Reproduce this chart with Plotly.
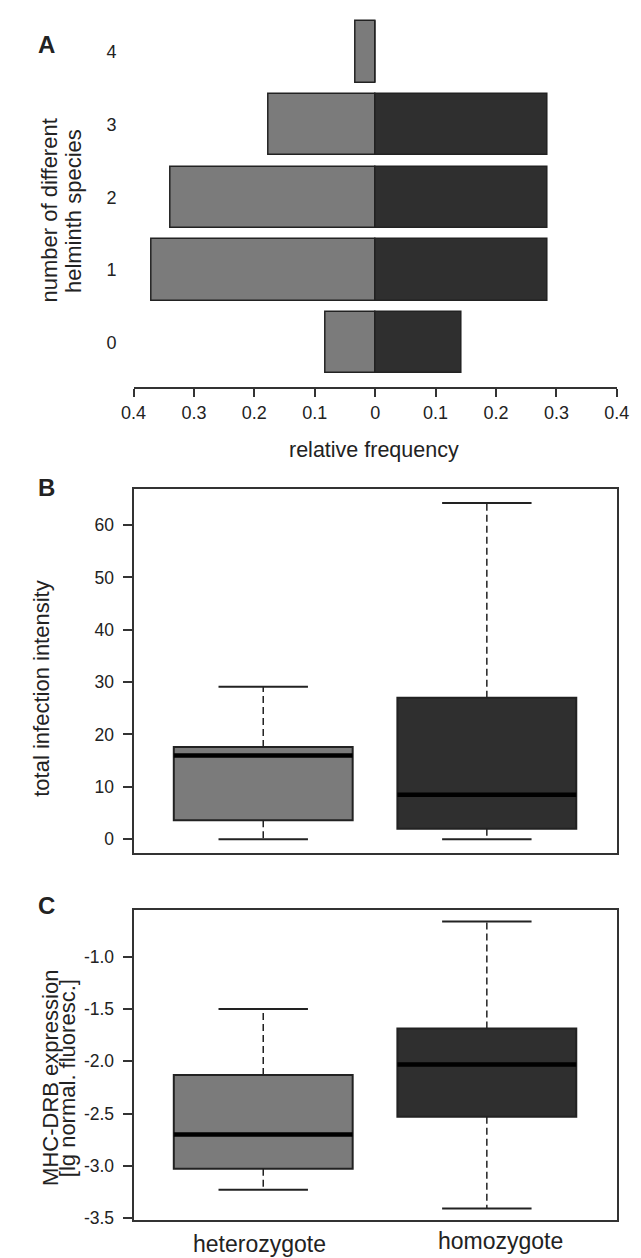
import plotly.graph_objects as go

W, H = 641, 1258
def PX(x): return x / W
def PY(y): return 1 - y / H

# ---------------- data ----------------
# Panel A: relative frequency of number of helminth species
n_species = [0, 1, 2, 3, 4]
het_freq = [0.083, 0.370, 0.339, 0.177, 0.033]
hom_freq = [0.143, 0.286, 0.286, 0.286, 0.0]
a_ticks = [-0.4, -0.3, -0.2, -0.1, 0, 0.1, 0.2, 0.3, 0.4]
a_ticktext = ["0.4", "0.3", "0.2", "0.1", "0", "0.1", "0.2", "0.3", "0.4"]

# Panels B and C: box summaries
groups = ["heterozygote", "homozygote"]
positions = [1, 2]
colors = ["#7b7b7b", "#2f2f2f"]

b_lower = [0.0, 0.0]
b_q1 = [3.6, 2.0]
b_median = [16.0, 8.5]
b_q3 = [17.6, 27.0]
b_upper = [29.1, 64.2]
b_ticks = [0, 10, 20, 30, 40, 50, 60]

c_lower = [-3.23, -3.41]
c_q1 = [-3.03, -2.53]
c_median = [-2.70, -2.03]
c_q3 = [-2.13, -1.685]
c_upper = [-1.50, -0.66]
c_ticks = [-3.5, -3.0, -2.5, -2.0, -1.5, -1.0]
c_ticktext = ["-3.5", "-3.0", "-2.5", "-2.0", "-1.5", "-1.0"]

FONT = "Liberation Sans, Arial, Helvetica, sans-serif"
TXT = "#222222"
LINE = "#333333"
BOXW = 0.8
CAPW = 0.4

fig = go.Figure()

# ---------------- Panel A ----------------
fig.add_trace(go.Bar(
    y=n_species, x=[-v for v in het_freq], orientation="h", width=0.843,
    marker=dict(color="#7b7b7b", line=dict(color="#222222", width=1.5)),
    xaxis="x", yaxis="y", hoverinfo="skip"))
fig.add_trace(go.Bar(
    y=n_species, x=hom_freq, orientation="h", width=0.843,
    marker=dict(color="#2f2f2f", line=dict(color="#222222", width=1.5)),
    xaxis="x", yaxis="y", hoverinfo="skip"))

# ---------------- Box panels ----------------
def add_boxes(lower, q1, med, q3, upper, xa, ya):
    for i, pos in enumerate(positions):
        fig.add_trace(go.Box(
            x=[pos], q1=[q1[i]], median=[med[i]], q3=[q3[i]],
            lowerfence=[q1[i]], upperfence=[q3[i]],
            width=BOXW, whiskerwidth=0, fillcolor=colors[i],
            line=dict(color="#222222", width=2),
            boxpoints=False, xaxis=xa, yaxis=ya, hoverinfo="skip"))
        # dashed whiskers
        fig.add_trace(go.Scatter(
            x=[pos, pos, None, pos, pos],
            y=[q3[i], upper[i], None, q1[i], lower[i]],
            mode="lines", line=dict(color="#222222", width=1.5, dash="7px,4px"),
            xaxis=xa, yaxis=ya, hoverinfo="skip"))
        # caps
        fig.add_trace(go.Scatter(
            x=[pos - CAPW / 2, pos + CAPW / 2, None, pos - CAPW / 2, pos + CAPW / 2],
            y=[upper[i], upper[i], None, lower[i], lower[i]],
            mode="lines", line=dict(color="#222222", width=2),
            xaxis=xa, yaxis=ya, hoverinfo="skip"))
        # median
        fig.add_trace(go.Scatter(
            x=[pos - BOXW / 2, pos + BOXW / 2], y=[med[i], med[i]],
            mode="lines", line=dict(color="#000000", width=4.5),
            xaxis=xa, yaxis=ya, hoverinfo="skip"))

add_boxes(b_lower, b_q1, b_median, b_q3, b_upper, "x2", "y2")
add_boxes(c_lower, c_q1, c_median, c_q3, c_upper, "x3", "y3")

tickfont = dict(family=FONT, size=17.5, color=TXT)

fig.update_layout(
    width=W, height=H, margin=dict(l=0, r=0, t=0, b=0),
    paper_bgcolor="white", plot_bgcolor="white", showlegend=False,
    barmode="relative", bargap=0,
    xaxis=dict(domain=[PX(117.3), PX(621)], range=[-0.4, 0.4], anchor="y",
               tickvals=a_ticks, ticktext=a_ticktext, ticks="outside", ticklen=8,
               tickwidth=1.5, tickcolor=LINE, showline=True, linecolor=LINE,
               linewidth=1.5, showgrid=False, zeroline=False,
               tickfont=dict(family=FONT, size=18, color=TXT), ticklabelstandoff=0),
    yaxis=dict(domain=[PY(381.7), 1], range=[-0.611, 4.604], anchor="x",
               tickvals=n_species, ticks="", showline=False, showgrid=False,
               zeroline=False, tickfont=dict(family=FONT, size=18, color=TXT),
               ticklabelstandoff=16),
    xaxis2=dict(domain=[PX(117.3), PX(620.7)], range=[0.42, 2.58], anchor="y2",
                showticklabels=False, ticks="", showline=True, mirror=True,
                linecolor=LINE, linewidth=2, showgrid=False, zeroline=False),
    yaxis2=dict(domain=[PY(850), PY(484.3)], range=[-2.57, 66.85], anchor="x2",
                tickvals=b_ticks, ticks="outside", ticklen=9, tickwidth=1.5,
                tickcolor=LINE, showline=True, mirror=True, linecolor=LINE,
                linewidth=2, showgrid=False, zeroline=False, tickfont=tickfont,
                ticklabelstandoff=5),
    xaxis3=dict(domain=[PX(117.3), PX(620.7)], range=[0.42, 2.58], anchor="y3",
                showticklabels=False, ticks="", showline=True, mirror=True,
                linecolor=LINE, linewidth=2, showgrid=False, zeroline=False),
    yaxis3=dict(domain=[PY(1220), PY(907.7)], range=[-3.522, -0.55], anchor="x3",
                tickvals=c_ticks, ticktext=c_ticktext, ticks="outside", ticklen=9,
                tickwidth=1.5, tickcolor=LINE, showline=True, mirror=True,
                linecolor=LINE, linewidth=2, showgrid=False, zeroline=False,
                tickfont=tickfont, ticklabelstandoff=5),
)

def ann(text, x, y, size, angle=0, bold=False):
    fig.add_annotation(text=f"<b>{text}</b>" if bold else text,
                       x=PX(x), y=PY(y), xref="paper", yref="paper",
                       xanchor="center", yanchor="middle", showarrow=False,
                       textangle=angle, font=dict(family=FONT, size=size, color=TXT))

TITLE = 22
ann("A", 27, 37, 24, bold=True)
ann("B", 27, 483, 24, bold=True)
ann("C", 27, 903, 24, bold=True)
ann("number of different", 30, 204, TITLE, angle=-90)
ann("helminth species", 54.6, 204, TITLE, angle=-90)
ann("relative frequency", 368, 445, 21.5)
ann("total infection intensity", 22, 685, TITLE, angle=-90)
ann("MHC-DRB expression", 30, 1077, TITLE, angle=-90)
ann("[lg normal. fluoresc.]", 48, 1077, TITLE, angle=-90)
ann(groups[0], 249, 1244, 23)
ann(groups[1], 500, 1241, 23)

fig.write_html("out.html")
